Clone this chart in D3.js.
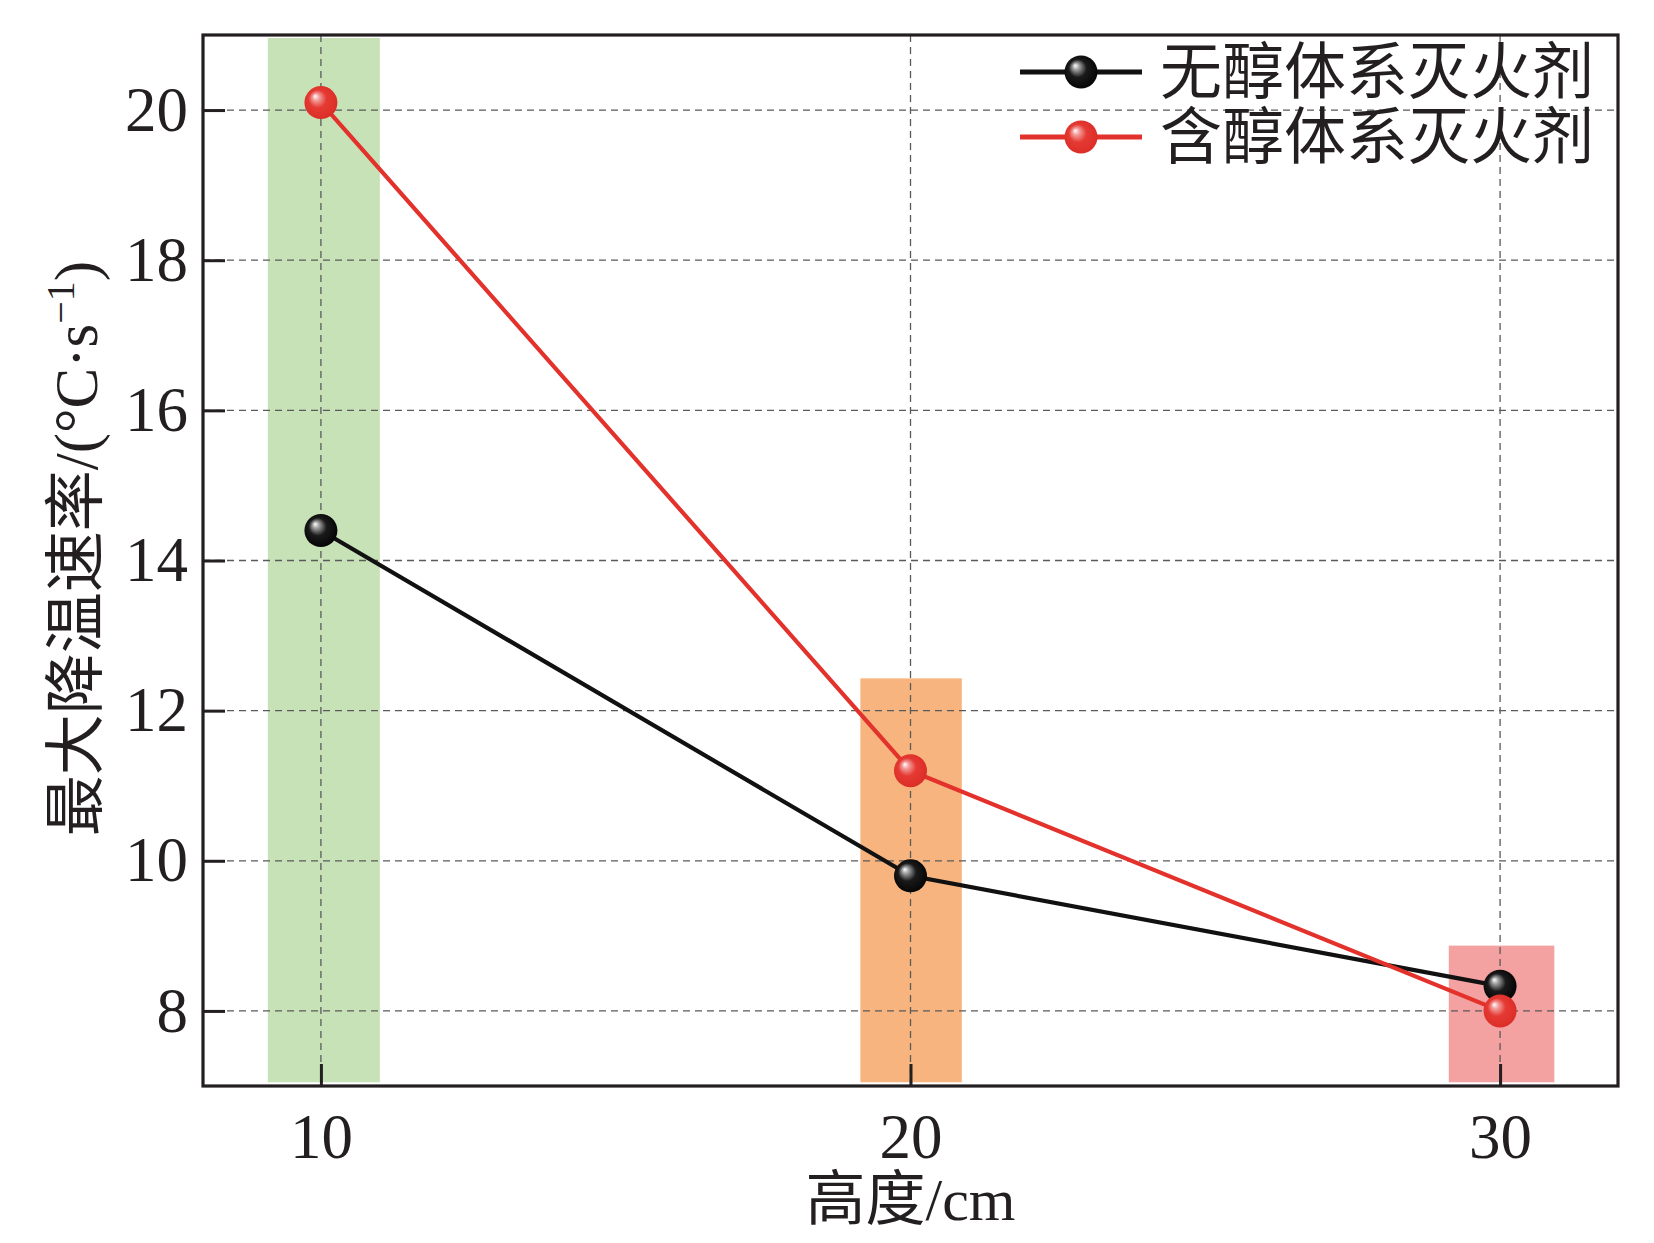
<!DOCTYPE html>
<html>
<head>
<meta charset="utf-8">
<script src="https://cdn.jsdelivr.net/npm/d3@7"></script>
<style>
  html, body { margin: 0; padding: 0; background: #fff; }
  text { font-family: "Liberation Serif", "Noto Sans CJK SC", serif; fill: #231f20; }
</style>
</head>
<body>
<div id="chart"></div>
<script>
// data
const heights = [10, 20, 30];
const seriesNames = ['无醇体系灭火剂', '含醇体系灭火剂'];
const noAlcohol = [14.4, 9.8, 8.33];
const withAlcohol = [20.1, 11.2, 8.0];
const bandStart = [9.1, 19.15, 29.13];
const bandEnd = [11.0, 20.87, 30.92];
const bandTop = [20.96, 12.43, 8.87];
const bandBase = 7.05;
const xTicks = [10, 20, 30];
const yTicks = [8, 10, 12, 14, 16, 18, 20];

const width = 1654, height = 1243;
const margin = {left: 203, right: 36, top: 35, bottom: 157};

const svg = d3.select('#chart')
  .append('svg')
  .attr('width', width)
  .attr('height', height);

const x = d3.scaleLinear()
  .domain([8, 32])
  .range([margin.left, width - margin.right]);

const y = d3.scaleLinear()
  .domain([7, 21])
  .range([height - margin.bottom, margin.top]);

const colors = ['#111111', '#e3312b'];
const bandColors = ['#c8e2b8', '#f7b47e', '#f3a1a1'];

// ball gradients
const defs = svg.append('defs');
const gradStops = [
  [['0%', '#ffffff'], ['18%', '#9a9a9a'], ['45%', '#1a1a1a'], ['100%', '#000000']],
  [['0%', '#ffffff'], ['18%', '#f29a98'], ['45%', '#e53a33'], ['100%', '#d82a24']]
];
gradStops.forEach((stops, i) => {
  const g = defs.append('radialGradient')
    .attr('id', 'ball' + i)
    .attr('cx', '50%').attr('cy', '50%').attr('r', '60%')
    .attr('fx', '32%').attr('fy', '30%');
  stops.forEach(s => g.append('stop').attr('offset', s[0]).attr('stop-color', s[1]));
});

// background bands
svg.append('g')
  .selectAll('rect')
  .data(heights)
  .enter()
  .append('rect')
  .attr('x', (d, i) => x(bandStart[i]))
  .attr('width', (d, i) => x(bandEnd[i]) - x(bandStart[i]))
  .attr('y', (d, i) => y(bandTop[i]))
  .attr('height', (d, i) => y(bandBase) - y(bandTop[i]))
  .attr('fill', (d, i) => bandColors[i]);

// grid
const grid = svg.append('g')
  .attr('stroke', '#5a5a5a')
  .attr('stroke-width', 1.3)
  .attr('stroke-dasharray', '7,5');
grid.selectAll('line.h')
  .data(yTicks)
  .enter()
  .append('line')
  .attr('class', 'h')
  .attr('x1', x.range()[0]).attr('x2', x.range()[1])
  .attr('y1', d => y(d)).attr('y2', d => y(d));
grid.selectAll('line.v')
  .data(xTicks)
  .enter()
  .append('line')
  .attr('class', 'v')
  .attr('y1', y.range()[0]).attr('y2', y.range()[1])
  .attr('x1', d => x(d)).attr('x2', d => x(d));

// axes
const xAxis = d3.axisBottom(x).tickValues(xTicks).tickSizeInner(-22).tickSizeOuter(0).tickPadding(27);
const yAxis = d3.axisLeft(y).tickValues(yTicks).tickSizeInner(-22).tickSizeOuter(0).tickPadding(15);

const gx = svg.append('g')
  .attr('transform', `translate(0,${y.range()[0]})`)
  .call(xAxis);
const gy = svg.append('g')
  .attr('transform', `translate(${x.range()[0]},0)`)
  .call(yAxis);
[gx, gy].forEach(g => {
  g.select('.domain').remove();
  g.selectAll('.tick line').attr('stroke', '#231f20').attr('stroke-width', 3);
  g.selectAll('.tick text').attr('font-size', 63).style('fill', '#231f20');
});

// frame
svg.append('rect')
  .attr('x', x.range()[0])
  .attr('y', y.range()[1])
  .attr('width', x.range()[1] - x.range()[0])
  .attr('height', y.range()[0] - y.range()[1])
  .attr('fill', 'none')
  .attr('stroke', '#231f20')
  .attr('stroke-width', 3.2);

// lines and points
const series = [noAlcohol, withAlcohol];
const line = d3.line()
  .x((d, i) => x(heights[i]))
  .y(d => y(d));

series.forEach((vals, s) => {
  svg.append('path')
    .datum(vals)
    .attr('fill', 'none')
    .attr('stroke', colors[s])
    .attr('stroke-width', 4.2)
    .attr('d', line);
});
series.forEach((vals, s) => {
  svg.append('g')
    .selectAll('circle')
    .data(vals)
    .enter()
    .append('circle')
    .attr('cx', (d, i) => x(heights[i]))
    .attr('cy', d => y(d))
    .attr('r', 16.5)
    .attr('fill', `url(#ball${s})`);
});

// legend
const legend = svg.append('g')
  .attr('transform', 'translate(1020,72)');
seriesNames.forEach((name, s) => {
  const row = legend.append('g').attr('transform', `translate(0,${s * 65})`);
  row.append('line')
    .attr('x1', 0).attr('x2', 122)
    .attr('stroke', colors[s])
    .attr('stroke-width', 5);
  row.append('circle')
    .attr('cx', 61)
    .attr('r', 16.5)
    .attr('fill', `url(#ball${s})`);
  row.append('text')
    .attr('x', 140)
    .attr('dy', '0.36em')
    .attr('font-size', 62)
    .text(name);
});

// axis titles
svg.append('text')
  .attr('x', (x.range()[0] + x.range()[1]) / 2)
  .attr('y', 1220)
  .attr('text-anchor', 'middle')
  .attr('font-size', 60)
  .text('高度/cm');

const yTitle = svg.append('text')
  .attr('transform', `translate(97,${(y.range()[0] + y.range()[1]) / 2 - 12}) rotate(-90)`)
  .attr('text-anchor', 'middle')
  .attr('font-size', 61);
yTitle.append('tspan').text('最大降温速率/(°C·s');
yTitle.append('tspan').attr('font-size', 40).attr('dy', -23).text('−1');
yTitle.append('tspan').attr('dy', 23).text(')');
</script>
</body>
</html>
